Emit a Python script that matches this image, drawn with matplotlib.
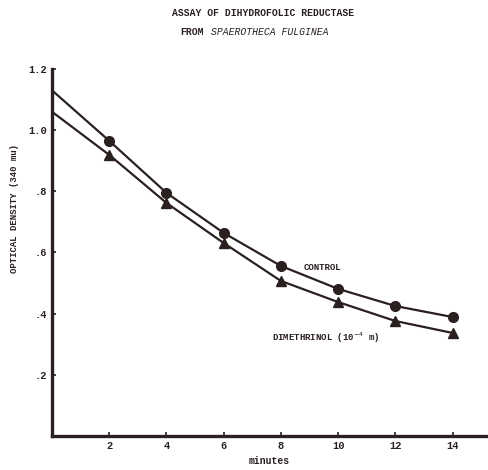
import matplotlib.pyplot as plt
import numpy as np

# values
minutes = [0, 2, 4, 6, 8, 10, 12, 14]
control = [1.13, 0.965, 0.795, 0.664, 0.556, 0.481, 0.425, 0.389]
dimethrinol = [1.06, 0.919, 0.762, 0.631, 0.507, 0.438, 0.376, 0.337]
xticks = [2, 4, 6, 8, 10, 12, 14]
yticks = [0.2, 0.4, 0.6, 0.8, 1.0, 1.2]
ylabels = [".2", ".4", ".6", ".8", "1.0", "1.2"]

ink = "#2b2020"
mono = ["Liberation Mono", "DejaVu Sans Mono"]

fig = plt.figure(figsize=(4.88, 4.70), dpi=100)
ax = fig.add_axes([0.1066, 0.0723, 0.891, 0.781])

ax.plot(minutes, control, color=ink, lw=1.6)
ax.plot(minutes[1:], control[1:], "o", color=ink, ms=7)
ax.plot(minutes, dimethrinol, color=ink, lw=1.6)
ax.plot(minutes[1:], dimethrinol[1:], "^", color=ink, ms=7)

ax.set_xlim(0, 15.2)
ax.set_ylim(0, 1.2)
ax.set_xticks(xticks)
ax.set_xticklabels([str(t) for t in xticks])
ax.set_yticks(yticks)
ax.set_yticklabels(ylabels)
ax.tick_params(direction="in", length=3, width=1.2, color=ink, labelcolor=ink,
               labelsize=7.5)
for lab in ax.get_xticklabels() + ax.get_yticklabels():
    lab.set_family(mono)
    lab.set_weight("bold")

for s in ["top", "right"]:
    ax.spines[s].set_visible(False)
for s in ["left", "bottom"]:
    ax.spines[s].set_linewidth(2.4)
    ax.spines[s].set_color(ink)

ax.set_xlabel("minutes", family=mono, weight="bold", fontsize=7, color=ink,
              labelpad=4)
ax.set_ylabel("OPTICAL DENSITY (340 mu)", family=mono, weight="bold",
              fontsize=6.5, color=ink)
ax.yaxis.set_label_coords(-0.075, 0.62)

ax.text(9.45, 0.55, "CONTROL", family=mono, weight="bold", fontsize=6.5,
        color=ink, ha="center", va="center")
ax.text(7.7, 0.322, r"DIMETHRINOL (10$^{-4}$ m)", family=mono, weight="bold",
        fontsize=6.5, color=ink, ha="left", va="center")

fig.text(0.54, 0.972, "ASSAY OF DIHYDROFOLIC REDUCTASE", family=mono,
         weight="bold", fontsize=7, color=ink, ha="center", va="center")
fig.text(0.37, 0.932, "FROM", family=mono, weight="bold", fontsize=7,
         color=ink, ha="left", va="center")
fig.text(0.432, 0.932, "SPAEROTHECA FULGINEA", family=mono, style="italic",
         fontsize=7, color=ink, ha="left", va="center")

fig.savefig("out.png", dpi=100)
